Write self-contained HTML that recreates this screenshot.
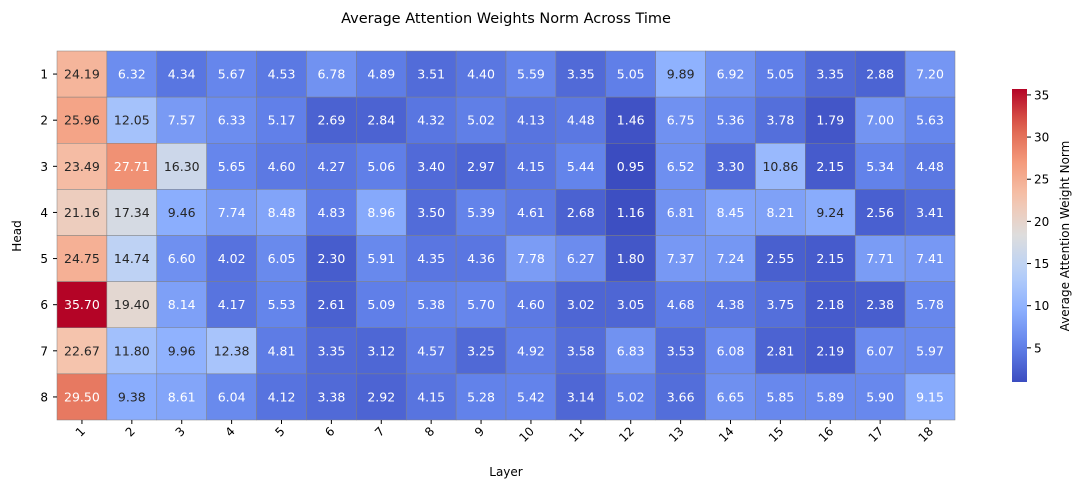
<!DOCTYPE html>
<html><head><meta charset="utf-8"><style>
body{margin:0;background:#fff;}
svg{display:block;font-family:"DejaVu Sans","Liberation Sans",sans-serif;}
</style></head><body>
<svg id="chart" width="1083" height="490" xmlns="http://www.w3.org/2000/svg">
<defs><linearGradient id="cbg" x1="0" y1="1" x2="0" y2="0"></linearGradient></defs>
<text x="506" y="23" font-size="14.5" text-anchor="middle">Average Attention Weights Norm Across Time</text>
<text x="506" y="476" font-size="12" text-anchor="middle">Layer</text>
<text transform="translate(21,236) rotate(-90)" font-size="12" text-anchor="middle">Head</text>
<text transform="translate(1069,236) rotate(-90)" font-size="12" text-anchor="middle">Average Attention Weight Norm</text>
<g id="cells"></g><g id="xt"></g><g id="yt"></g><g id="cb"></g>
</svg>
<script>
const layers=["1","2","3","4","5","6","7","8","9","10","11","12","13","14","15","16","17","18"];
const heads=["1","2","3","4","5","6","7","8"];
const row1=[24.19,6.32,4.34,5.67,4.53,6.78,4.89,3.51,4.40,5.59,3.35,5.05,9.89,6.92,5.05,3.35,2.88,7.20];
const row2=[25.96,12.05,7.57,6.33,5.17,2.69,2.84,4.32,5.02,4.13,4.48,1.46,6.75,5.36,3.78,1.79,7.00,5.63];
const row3=[23.49,27.71,16.30,5.65,4.60,4.27,5.06,3.40,2.97,4.15,5.44,0.95,6.52,3.30,10.86,2.15,5.34,4.48];
const row4=[21.16,17.34,9.46,7.74,8.48,4.83,8.96,3.50,5.39,4.61,2.68,1.16,6.81,8.45,8.21,9.24,2.56,3.41];
const row5=[24.75,14.74,6.60,4.02,6.05,2.30,5.91,4.35,4.36,7.78,6.27,1.80,7.37,7.24,2.55,2.15,7.71,7.41];
const row6=[35.70,19.40,8.14,4.17,5.53,2.61,5.09,5.38,5.70,4.60,3.02,3.05,4.68,4.38,3.75,2.18,2.38,5.78];
const row7=[22.67,11.80,9.96,12.38,4.81,3.35,3.12,4.57,3.25,4.92,3.58,6.83,3.53,6.08,2.81,2.19,6.07,5.97];
const row8=[29.50,9.38,8.61,6.04,4.12,3.38,2.92,4.15,5.28,5.42,3.14,5.02,3.66,6.65,5.85,5.89,5.90,9.15];
const cbTicks=[5,10,15,20,25,30,35];
const rows=[row1,row2,row3,row4,row5,row6,row7,row8];
const NS="http://www.w3.org/2000/svg";
const all=rows.flat();const vmin=Math.min(...all),vmax=Math.max(...all);
const X0=57,X1=955,Y0=51,Y1=420;
const cw=(X1-X0)/layers.length,ch=(Y1-Y0)/heads.length;
const xs=i=>X0+i*cw, ys=j=>Y0+j*ch;
const stops=[[59,76,192],[98,130,234],[141,176,254],[184,208,249],[221,221,221],[245,196,173],[244,154,123],[222,96,77],[180,4,38]];
function cmapT(t){t=Math.max(0,Math.min(1,t))*8;let i=Math.min(7,Math.floor(t)),f=t-i;
return stops[i].map((c,k)=>Math.round(c+(stops[i+1][k]-c)*f));}
function cmap(v){return cmapT((v-vmin)/(vmax-vmin));}
function lum(c){const l=c.map(x=>{x/=255;return x<=0.03928?x/12.92:Math.pow((x+0.055)/1.055,2.4)});return 0.2126*l[0]+0.7152*l[1]+0.0722*l[2];}
const LT=lum(cmapT((9.2-0.95)/34.75));
function mk(tag,attrs,parent){const e=document.createElementNS(NS,tag);for(const k in attrs)e.setAttribute(k,attrs[k]);parent.appendChild(e);return e;}
const G=document.getElementById('cells');
rows.forEach((r,j)=>r.forEach((v,i)=>{
 const c=cmap(v);
 const rect=mk('rect',{x:xs(i),y:ys(j),width:cw,height:ch,fill:`rgb(${c})`,stroke:'#808080','stroke-width':0.5},G);
 
 
 const t=mk('text',{x:xs(i)+cw/2,y:ys(j)+ch/2+4.5,'font-size':12.5,'text-anchor':'middle',fill:lum(c)>=LT?'#262626':'#fff'},G);
 t.textContent=v.toFixed(2);
 
 
}));
const XT=document.getElementById('xt');
layers.forEach((l,i)=>{const cx=xs(i)+cw/2;
 mk('line',{x1:cx,x2:cx,y1:Y1,y2:Y1+4,stroke:'#000'},XT);
 const t=mk('text',{transform:`translate(${cx+4},${Y1+12}) rotate(-45)`,'font-size':12,'text-anchor':'end'},XT);
 t.textContent=l;
 
 });
const YT=document.getElementById('yt');
heads.forEach((h,j)=>{const cy=ys(j)+ch/2;
 mk('line',{x1:X0-4,x2:X0,y1:cy,y2:cy,stroke:'#000'},YT);
 const t=mk('text',{x:X0-9,y:cy+4.5,'font-size':12,'text-anchor':'end'},YT);
 t.textContent=h;
 
 });
const CB=document.getElementById('cb');const grad=document.getElementById('cbg');
for(let k=0;k<=20;k++){const v=vmin+(vmax-vmin)*k/20;mk('stop',{offset:k/20,'stop-color':`rgb(${cmap(v)})`},grad);}
const CX=1012,CW=15,CY0=89,CY1=382;
const cbr=mk('rect',{x:CX,y:CY0,width:CW,height:CY1-CY0,fill:'url(#cbg)'},CB);


const cy=v=>CY1-(v-vmin)/(vmax-vmin)*(CY1-CY0);
cbTicks.forEach(v=>{const y=cy(v);
 mk('line',{x1:CX+CW,x2:CX+CW+4,y1:y,y2:y,stroke:'#000'},CB);
 const t=mk('text',{x:CX+CW+7,y:y+4.5,'font-size':12},CB);
 t.textContent=v;
 
 });
</script>
</body></html>
